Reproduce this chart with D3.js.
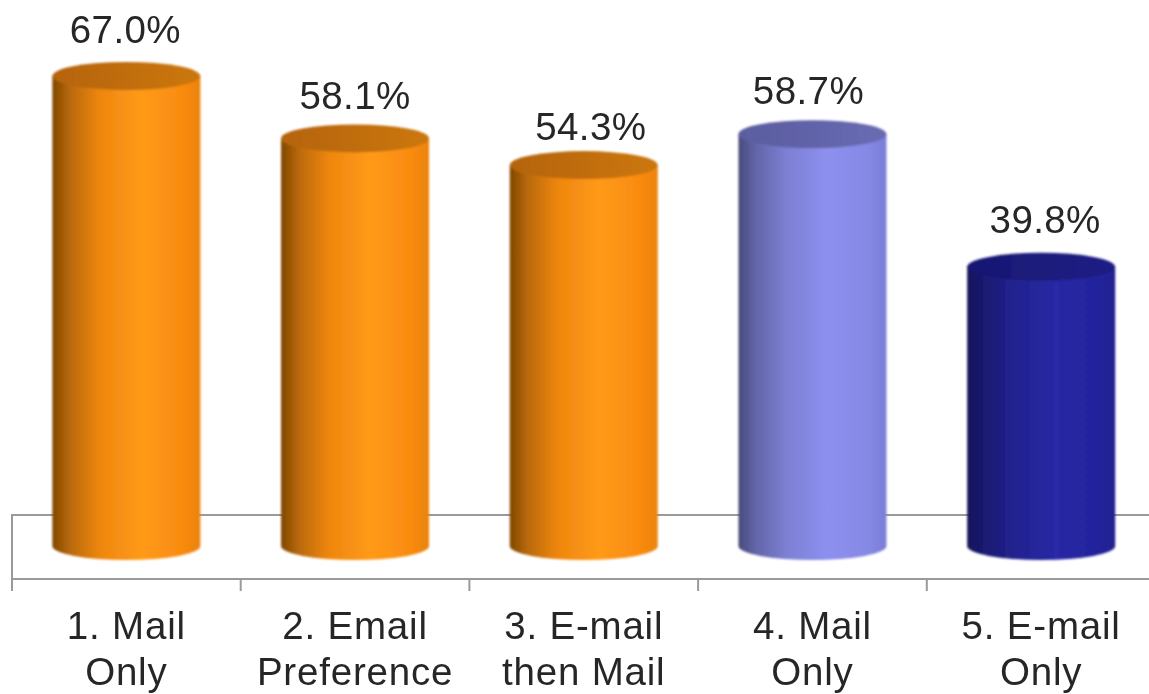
<!DOCTYPE html>
<html lang="en">
<head>
<meta charset="UTF-8">
<title>Response rate by mode</title>
<script src="https://d3js.org/d3.v7.min.js"></script>
<style>
    html, body { margin: 0; padding: 0; background: #fff; overflow: hidden; }
    svg { display: block; }
    text { font-family: "Liberation Sans", Arial, sans-serif; font-size: 38.5px; letter-spacing: 0.8px; fill: #282828; }
    text.val { letter-spacing: 0.4px; }
    .frame { stroke: #9a9a9a; stroke-width: 2px; fill: none; }
</style>
</head>
<body>
<div id="chart"></div>
<script>
    const categories = ["1. Mail|Only", "2. Email|Preference", "3. E-mail|then Mail", "4. Mail|Only", "5. E-mail|Only"];
    const values = [67.0, 58.1, 54.3, 58.7, 39.8];
    const groups = ["orange", "orange", "orange", "lilac", "navy"];
    // the value labels are not centred or evenly spaced in the original
    const labelDx = [-1, 0, 7, -4, 4];
    const labelDy = [33, 29, 25, 30, 34];

    const width = 1149, height = 694;
    const x0 = 12, bandW = 228.7, rx = 74, ry = 14;

    const svg = d3.select("#chart").append("svg")
        .attr("width", width).attr("height", height);

    const x = d3.scaleBand().domain(categories).range([x0, x0 + bandW * 5]);
    const y = d3.scaleLinear().domain([0, 67]).range([546, 76]);

    // side, top colour stops for each group
    const palette = {
        orange: {
            side: [["0%", "#804704"], ["12%", "#b96908"], ["32%", "#ee860e"], ["60%", "#ff9a18"], ["88%", "#f98b10"], ["100%", "#ea830c"]],
            top: [["0%", "#b5640a"], ["50%", "#c06d0b"], ["100%", "#cc770d"]]
        },
        lilac: {
            side: [["0%", "#484b7c"], ["12%", "#6366a8"], ["32%", "#7c7fd2"], ["60%", "#8d90ee"], ["88%", "#8588e4"], ["100%", "#7b7ed6"]],
            top: [["0%", "#5a5da0"], ["50%", "#6163a8"], ["100%", "#6a6cb4"]]
        },
        navy: {
            side: [["0%", "#14145a"], ["12%", "#1a1a72"], ["32%", "#222290"], ["60%", "#2929a6"], ["88%", "#23239c"], ["100%", "#1f1f90"]],
            top: [["0%", "#181872"], ["50%", "#1b1b7c"], ["100%", "#1f1f86"]]
        }
    };

    const defs = svg.append("defs");
    function addGradient(id, stops) {
        const g = defs.append("linearGradient").attr("id", id);
        stops.forEach(s => g.append("stop").attr("offset", s[0]).attr("stop-color", s[1]));
    }
    Object.keys(palette).forEach(k => {
        addGradient(k + "-side", palette[k].side);
        addGradient(k + "-top", palette[k].top);
    });
    defs.append("filter").attr("id", "soft")
        .append("feGaussianBlur").attr("stdDeviation", 0.9);
    defs.append("filter").attr("id", "soft-text")
        .append("feGaussianBlur").attr("stdDeviation", 0.45);

    // floor / back wall
    const axisY = 579, wallY = 515;
    const frame = svg.append("g").attr("filter", "url(#soft-text)");
    frame.append("path").attr("class", "frame")
        .attr("d", `M${width},${wallY}H${x0}V${axisY}H${width}`);
    frame.selectAll(".tick-mark").data(categories).enter().append("line")
        .attr("class", "frame")
        .attr("x1", d => x(d)).attr("x2", d => x(d))
        .attr("y1", axisY).attr("y2", axisY + 12);

    // cylinders
    const bars = svg.selectAll(".bar").data(categories).enter().append("g")
        .attr("class", "bar")
        .attr("transform", d => `translate(${x(d) + x.bandwidth() / 2},0)`);

    const shapes = bars.append("g").attr("filter", "url(#soft)");
    shapes.append("path")
        .attr("fill", (d, i) => `url(#${groups[i]}-side)`)
        .attr("d", (d, i) => `M${-rx},${y(values[i])}V${y(0)}A${rx},${ry} 0 0 0 ${rx},${y(0)}V${y(values[i])}Z`);

    shapes.append("ellipse")
        .attr("rx", rx).attr("ry", ry)
        .attr("cy", (d, i) => y(values[i]))
        .attr("fill", (d, i) => `url(#${groups[i]}-top)`);

    // value labels
    bars.append("text")
        .attr("class", "val")
        .attr("text-anchor", "middle")
        .attr("filter", "url(#soft-text)")
        .attr("x", (d, i) => labelDx[i])
        .attr("y", (d, i) => y(values[i]) - labelDy[i])
        .text((d, i) => values[i].toFixed(1) + "%");

    // category labels, two lines each
    const catLabels = svg.selectAll(".cat").data(categories).enter().append("text")
        .attr("class", "cat")
        .attr("text-anchor", "middle")
        .attr("filter", "url(#soft-text)")
        .attr("transform", d => `translate(${x(d) + x.bandwidth() / 2},0)`);
    catLabels.selectAll("tspan").data(d => d.split("|")).enter().append("tspan")
        .attr("x", 0)
        .attr("y", (d, i) => 639 + i * 46)
        .text(d => d);
</script>
</body>
</html>
